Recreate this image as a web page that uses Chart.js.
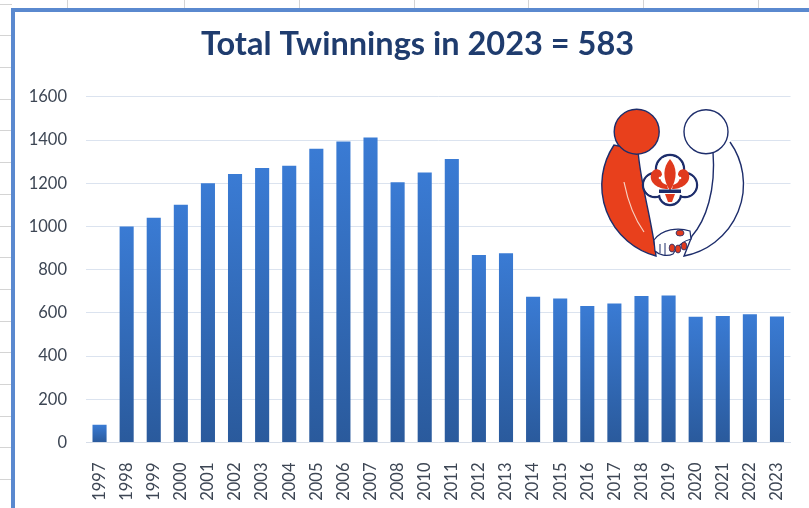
<!DOCTYPE html>
<html>
<head>
<meta charset="utf-8">
<title>Total Twinnings</title>
<script src="https://cdn.jsdelivr.net/npm/chart.js@4"></script>
<style>
  body { margin: 0; background: #fff; overflow: hidden; }
  #sheet { position: absolute; left: 0; top: 0; width: 809px; height: 508px; overflow: hidden; }
  .hline { position: absolute; left: 0; width: 12px; height: 1px; background: #d4d4d4; }
  .vline { position: absolute; top: 0; width: 1px; height: 9px; background: #d4d4d4; }
  #frame {
    position: absolute; left: 11px; top: 8px; width: 830px; height: 530px;
    border-left: 4px solid #5a89cf; border-top: 4px solid #5a89cf; background: #fff;
  }
  #wrap { position: absolute; left: 0; top: 0; width: 809px; height: 508px; }
  #logo { position: absolute; left: 580px; top: 90px; width: 180px; height: 180px; }
</style>
</head>
<body>
<div id="sheet"></div>
<div id="frame"></div>
<div id="wrap"><canvas id="myChart"></canvas></div>

<svg id="logo" viewBox="0 0 180 180">
  <circle cx="93.5" cy="95" r="73" fill="#fff"/>
  <!-- white figure -->
  <path d="M150 52 A73 73 0 0 1 104 166 L112 146 C126 130 136 100 133 62" fill="#fff" stroke="#1d2d6b" stroke-width="1.4"/>
  <circle cx="126" cy="41.7" r="22" fill="#fff" stroke="#1d2d6b" stroke-width="1.4"/>
  <!-- red figure -->
  <path d="M34 55 A73 73 0 0 0 76 166 C72 130 60 92 58 60 Z" fill="#e8401c" stroke="#1d2d6b" stroke-width="1.4"/>
  <path d="M44 92 C48 112 54 128 64 142" fill="none" stroke="#f6d2c4" stroke-width="1.2"/>
  <circle cx="56.7" cy="41.7" r="22.5" fill="#e8401c" stroke="#1d2d6b" stroke-width="1.4"/>
  <!-- trefoil badge: outline of the union of four circles -->
  <g stroke="#1d2d6b" stroke-width="2.4" fill="#fff">
    <circle cx="90" cy="79" r="14"/>
    <circle cx="75" cy="95" r="12"/>
    <circle cx="105" cy="95" r="12"/>
    <circle cx="90" cy="104" r="11"/>
  </g>
  <g fill="#fff">
    <circle cx="90" cy="79" r="12.8"/>
    <circle cx="75" cy="95" r="10.8"/>
    <circle cx="105" cy="95" r="10.8"/>
    <circle cx="90" cy="104" r="9.8"/>
    <circle cx="90" cy="92" r="12"/>
  </g>
  <g fill="#e03a1e">
    <path d="M90 69 C97 77 98 88 90 101 C82 88 83 77 90 69 Z"/>
    <path d="M88 99 C78 99 69 93 71 84 C73 77 82 78 82 85 C79 87 80 93 87 95 Z"/>
    <path d="M92 99 C102 99 111 93 109 84 C107 77 98 78 98 85 C101 87 100 93 93 95 Z"/>
    <path d="M85 104 L95 104 L92 112 L88 112 Z"/>
  </g>
  <rect x="79" y="99.5" width="22" height="3.5" fill="#1d2d6b"/>
  <circle cx="80" cy="88" r="1.3" fill="#fff"/>
  <circle cx="100" cy="88" r="1.3" fill="#fff"/>
  <!-- hands -->
  <path d="M74 150 C82 139 98 137 110 141 L111 149 C102 151 97 157 93 164 C87 167 79 165 75 161 Z" fill="#fff" stroke="#1d2d6b" stroke-width="1.2"/>
  <path d="M80 154 L80 163 M85 153 L85 165" stroke="#1d2d6b" stroke-width="1"/>
  <g fill="#e03a1e" stroke="#1d2d6b" stroke-width="0.8">
    <ellipse cx="100" cy="143" rx="4" ry="3"/>
    <ellipse cx="92" cy="158" rx="2.8" ry="4"/>
    <ellipse cx="98" cy="159" rx="2.8" ry="4"/>
    <ellipse cx="104" cy="156" rx="2.8" ry="4"/>
  </g>
</svg>

<script>
// years (2009 is not in the chart)
const years = ['1997', '1998', '1999', '2000', '2001', '2002', '2003', '2004', '2005', '2006', '2007', '2008',
               '2010', '2011', '2012', '2013', '2014', '2015', '2016', '2017', '2018', '2019', '2020', '2021',
               '2022', '2023'];
const twinnings = [82, 1000, 1040, 1100, 1200, 1243, 1270, 1281, 1360, 1393, 1412, 1205,
                   1250, 1312, 868, 876, 674, 667, 632, 643, 678, 680, 582, 586,
                   593, 583];
const yTicks = [0, 200, 400, 600, 800, 1000, 1200, 1400, 1600];
const chartTitle = 'Total Twinnings in 2023 = 583';

// spreadsheet lines behind the chart frame
const sheet = document.getElementById('sheet');
for (let i = 0; i < 17; i++) {
    const d = document.createElement('div');
    d.className = 'hline';
    d.style.top = Math.round(3.6 + 31.7 * i) + 'px';
    sheet.appendChild(d);
}
[67, 184, 299, 414, 528, 643, 758].forEach(x => {
    const d = document.createElement('div');
    d.className = 'vline';
    d.style.left = x + 'px';
    sheet.appendChild(d);
});

function barGradient(context) {
    const chart = context.chart;
    const area = chart.chartArea;
    if (!area || !chart.scales.y) {
        return '#3571c0';
    }
    const top = chart.scales.y.getPixelForValue(context.raw);
    const g = chart.ctx.createLinearGradient(0, top, 0, area.bottom);
    g.addColorStop(0, '#3a7bd4');
    g.addColorStop(1, '#2a5a9c');
    return g;
}

// the title sits a little right of the canvas centre in the picture
const shiftTitle = {
    id: 'shiftTitle',
    afterLayout(chart) {
        if (chart.titleBlock) {
            chart.titleBlock.left += 19;
            chart.titleBlock.right += 19;
        }
    }
};

const tickFont = { family: 'Lato', size: 16.5 };

const ctx = document.getElementById('myChart').getContext('2d');
const myChart = new Chart(ctx, {
    type: 'bar',
    data: {
        labels: years,
        datasets: [{
            label: 'Twinnings',
            data: twinnings,
            backgroundColor: barGradient,
            barPercentage: 0.52,
            categoryPercentage: 1
        }]
    },
    options: {
        responsive: true,
        maintainAspectRatio: false,
        animation: false,
        layout: { padding: { left: 0, right: 12, top: 0, bottom: 0 } },
        plugins: {
            legend: { display: false },
            tooltip: { enabled: false },
            title: {
                display: true,
                text: chartTitle,
                color: '#1f3c6e',
                font: { family: 'Lato', size: 32.5, weight: 'bold' },
                padding: { top: 25, bottom: 32.8 }
            }
        },
        scales: {
            x: {
                grid: { display: false },
                border: { color: '#d6dde8' },
                ticks: {
                    color: '#3d4654',
                    font: tickFont,
                    maxRotation: 90,
                    minRotation: 90,
                    autoSkip: false,
                    padding: 12
                },
                afterFit: s => { s.height = 65.5; }
            },
            y: {
                min: 0,
                max: 1600,
                afterBuildTicks: s => { s.ticks = yTicks.map(v => ({ value: v })); },
                grid: { color: '#dbe3ef', drawTicks: false },
                border: { display: false },
                ticks: {
                    color: '#3d4654',
                    font: tickFont,
                    padding: 19,
                    callback: v => String(v)
                },
                afterFit: s => { s.width = 86; }
            }
        }
    },
    plugins: [shiftTitle]
});
</script>
</body>
</html>
